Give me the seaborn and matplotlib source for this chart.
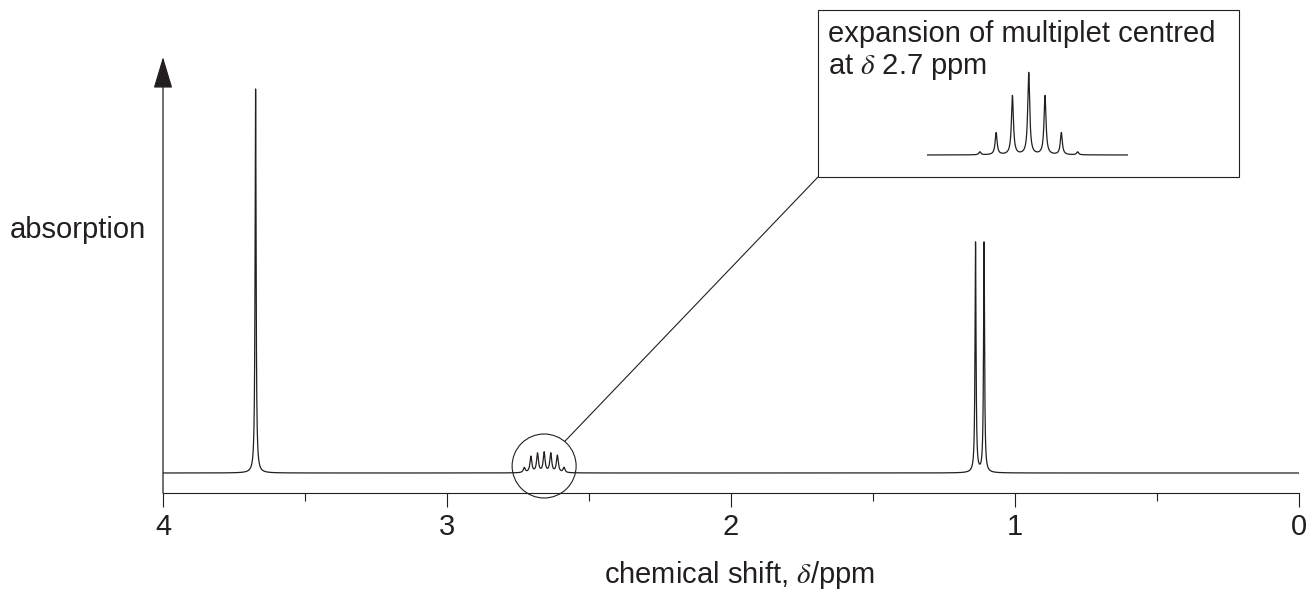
import numpy as np
import matplotlib
matplotlib.use("Agg")
import matplotlib.pyplot as plt
import seaborn as sns
from matplotlib.patches import Circle, Rectangle
from matplotlib.ticker import MultipleLocator

# peaks: position (ppm) and height above the baseline
singlet_ppm = [3.674]
singlet_height = [384]
doublet_ppm = [1.139, 1.109]
doublet_height = [230, 230]
multiplet_centre = 2.658
multiplet_spacing = 0.0233
multiplet_height = [5, 17, 19, 20, 19, 16, 5]     # as drawn inside the circle
expansion_height = [3, 22, 59, 82, 59, 22, 3]     # as drawn inside the box
baseline = 20

tick_values = [4, 3, 2, 1, 0]
tick_labels = ['4', '3', '2', '1', '0']

ink = '#231f20'


def lorentz(x, centres, heights, hw):
    y = np.zeros_like(x)
    for c, h in zip(centres, heights):
        y += h * hw ** 2 / ((x - c) ** 2 + hw ** 2)
    return y


if __name__ == "__main__":
    sns.set_style("white")
    plt.rcParams['font.family'] = ['Liberation Sans', 'DejaVu Sans']
    plt.rcParams['mathtext.fontset'] = 'stix'

    mult_ppm = multiplet_centre + multiplet_spacing * (np.arange(len(multiplet_height)) - 3)

    x = np.linspace(4, 0, 40001)
    y = (baseline
         + lorentz(x, singlet_ppm, singlet_height, 0.0021)
         + lorentz(x, doublet_ppm, doublet_height, 0.0021)
         + lorentz(x, mult_ppm, multiplet_height, 0.004))

    W, H = 1311, 598
    fig = plt.figure(figsize=(W / 100, H / 100), dpi=100)
    ax = fig.add_axes([163 / W, (H - 493) / H, 1136 / W, 436 / H])

    sns.lineplot(x=x, y=y, ax=ax, color=ink, lw=0.9, sort=False)
    ax.set_xlim(4, 0)
    ax.set_ylim(0, 436)

    for s in ['top', 'right', 'left']:
        ax.spines[s].set_visible(False)
    ax.spines['bottom'].set_color(ink)
    ax.spines['bottom'].set_linewidth(0.8)

    ax.set_xticks(tick_values, tick_labels)
    ax.xaxis.set_minor_locator(MultipleLocator(0.5))
    ax.tick_params(axis='x', which='major', length=10, width=0.8, direction='out',
                   pad=4.5, labelsize=21, colors=ink, bottom=True)
    ax.tick_params(axis='x', which='minor', length=5.8, width=0.8, direction='out',
                   colors=ink, bottom=True)
    ax.set_yticks([])

    # y axis with arrow head
    ax.annotate('', xy=(0, 1), xycoords='axes fraction', xytext=(0, 0),
                textcoords='axes fraction',
                arrowprops=dict(arrowstyle='-|>,head_length=0.4,head_width=0.12',
                                mutation_scale=50, color=ink, lw=0.9,
                                shrinkA=0, shrinkB=0))

    ax.set_xlabel(r"chemical shift, $\delta$/ppm", fontsize=21, color=ink)
    ax.xaxis.label.set_va('baseline')
    ax.xaxis.set_label_coords(0.507, -0.206)
    ax.set_ylabel('absorption', rotation=0, fontsize=21, color=ink, ha='right', va='baseline')
    ax.yaxis.set_label_coords(-17 / 1136, (493 - 238) / 436)

    # overlay in pixel units for the circle, connector and box
    ov = fig.add_axes([0, 0, 1, 1])
    ov.set_xlim(0, W)
    ov.set_ylim(H, 0)
    ov.axis('off')
    ov.patch.set_alpha(0)

    cx, cy = ax.transData.transform((multiplet_centre, baseline))
    cy = H - cy - 7
    r = 32
    ov.add_patch(Circle((cx, cy), r, fill=False, ec=ink, lw=0.8))
    ang = np.deg2rad(50)
    bx0, by0, bw, bh = 818, 10, 421, 167
    ov.plot([cx + r * np.cos(ang), bx0], [cy - r * np.sin(ang), by0 + bh], color=ink, lw=0.8)
    ov.add_patch(Rectangle((bx0, by0), bw, bh, fill=False, ec=ink, lw=0.8))
    ov.text(828, 42, "expansion of multiplet centred", fontsize=21, color=ink, va='baseline')
    ov.text(828, 74, r"at $\delta$ 2.7 ppm", fontsize=21, color=ink, va='baseline')

    # expanded multiplet
    ins = fig.add_axes([927 / W, (H - 165) / H, 201 / W, 100 / H])
    xe = np.linspace(2.8034, 2.5161, 6001)
    ye = lorentz(xe, mult_ppm, expansion_height, 0.0017)
    sns.lineplot(x=xe, y=ye, ax=ins, color=ink, lw=0.9, sort=False)
    ins.set_xlim(2.8034, 2.5161)
    ins.set_ylim(-10, 90)
    ins.axis('off')
    ins.patch.set_alpha(0)

    fig.savefig('out.png', dpi=100)
